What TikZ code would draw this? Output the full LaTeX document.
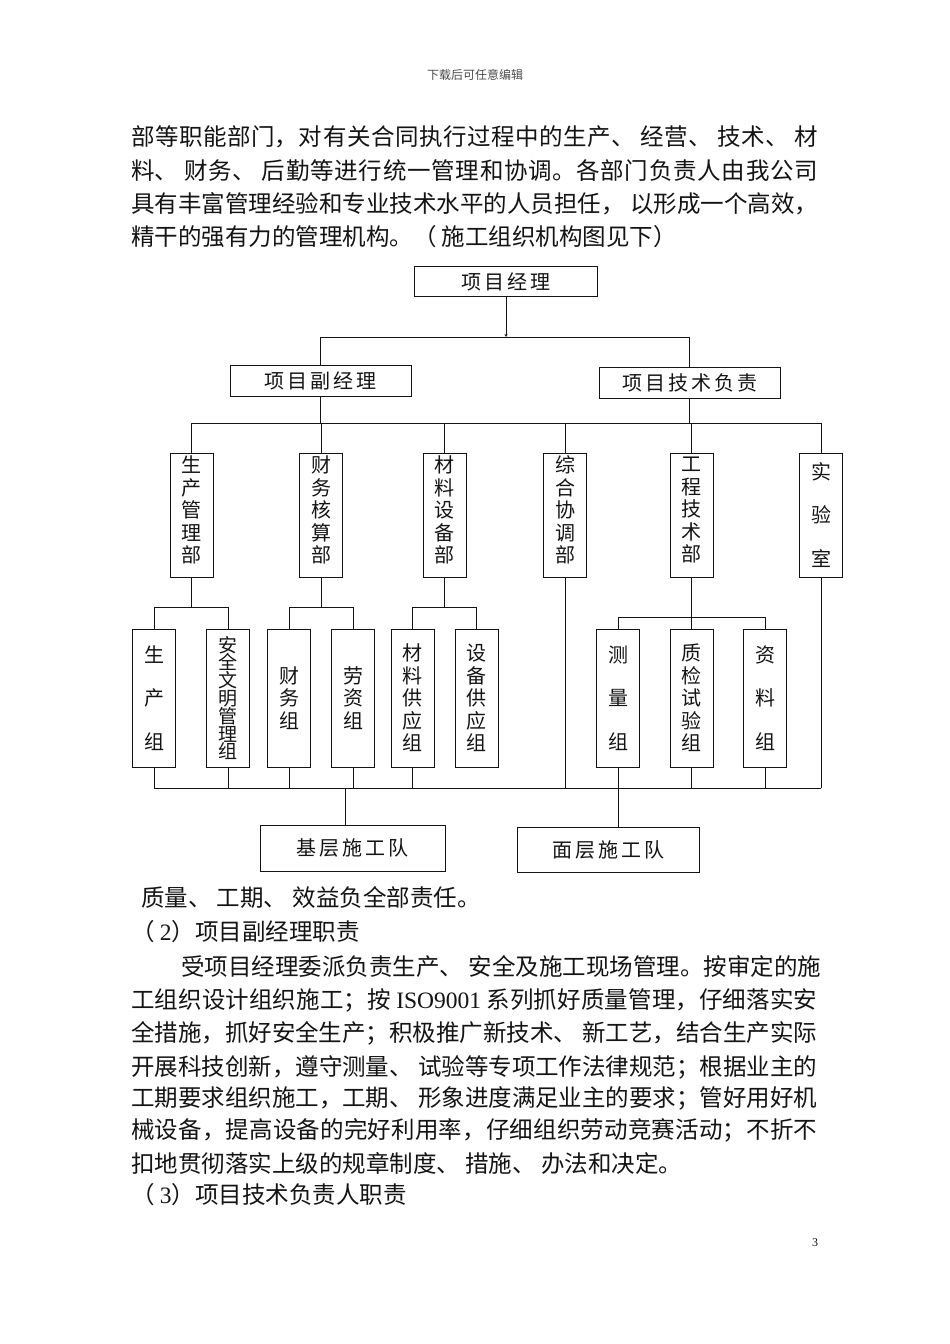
\documentclass[tikz,border=0pt]{standalone}
\usepackage{fontspec}
\setmainfont{Liberation Serif}
\newfontfamily\cjk{Noto Sans CJK SC}
\newfontfamily\cjkbox[LetterSpace=15]{Noto Sans CJK SC}
\usetikzlibrary{arrows.meta}
\XeTeXlinebreaklocale "zh"
\XeTeXlinebreakskip=0pt plus 2pt minus 1pt
\lineskiplimit=-100pt
\definecolor{inkmain}{HTML}{141414}
\definecolor{inkgray}{HTML}{4A4A4A}
\newcommand{\spreadline}[2]{\parbox{#1}{\parindent=0pt\parfillskip=0pt\relax #2}}
\tikzset{
  bodytext/.style={anchor=west,inner sep=0pt,text=inkmain,font=\cjk\fontsize{23.5}{24}\selectfont},
  wire/.style={draw=inkmain,line width=1pt},
  hbox/.style={draw=inkmain,line width=1pt,inner sep=0pt,text=inkmain,font=\cjkbox\fontsize{20}{20}\selectfont},
  deptbox/.style={draw=inkmain,line width=1pt,inner sep=0pt,minimum width=43pt,minimum height=124pt,align=center,text=inkmain,font=\cjk\fontsize{20}{22.5}\selectfont},
  groupbox/.style={deptbox,minimum height=138pt},
  widegap/.style={font=\cjk\fontsize{20}{43.5}\selectfont},
  tightgap/.style={font=\cjk\fontsize{19}{17.8}\selectfont},
  raised/.style={text depth=11pt}
}
\begin{document}
\begin{tikzpicture}[x=1pt,y=-1pt]
\fill[white] (0,0) rectangle (950,1344);
\useasboundingbox (0,0) rectangle (950,1344);
\node[font=\cjk\fontsize{12}{12}\selectfont,text=inkgray] (banner) at (475,75) {下载后可任意编辑};
% text above the chart
\node[bodytext] (introa) at (131,137) {\spreadline{687pt}{部等职能部门，对有关合同执行过程中的生产、 经营、 技术、 材}};
\node[bodytext] (introb) at (131,171) {\spreadline{687pt}{料、 财务、 后勤等进行统一管理和协调。各部门负责人由我公司}};
\node[bodytext] (introc) at (131,204) {\spreadline{687pt}{具有丰富管理经验和专业技术水平的人员担任， 以形成一个高效，}};
\node[bodytext] (introd) at (131,237) {精干的强有力的管理机构。（ 施工组织机构图见下）};
% chart
\node[hbox,minimum width=183pt,minimum height=30pt] (pm) at (506,281.5) {项目经理};
\node[hbox,minimum width=181pt,minimum height=31pt] (dpm) at (320.5,380.5) {项目副经理};
\node[hbox,minimum width=181pt,minimum height=31pt] (tech) at (689.5,382.5) {项目技术负责};
\node[deptbox,raised] (prod) at (191.5,515) {生\\产\\管\\理\\部};
\node[deptbox,raised] (fin) at (321,515) {财\\务\\核\\算\\部};
\node[deptbox,raised] (mat) at (444.5,515) {材\\料\\设\\备\\部};
\node[deptbox,raised] (coord) at (565,515) {综\\合\\协\\调\\部};
\node[deptbox,raised] (eng) at (691.5,515) {工\\程\\技\\术\\部};
\node[deptbox,widegap] (lab) at (821,515) {实\\验\\室};
\node[groupbox,widegap] (prodg) at (154,698) {生\\产\\组};
\node[groupbox,tightgap] (safe) at (228,698) {安\\全\\文\\明\\管\\理\\组};
\node[groupbox] (fing) at (289,698) {财\\务\\组};
\node[groupbox] (labour) at (353,698) {劳\\资\\组};
\node[groupbox] (matg) at (412.5,698) {材\\料\\供\\应\\组};
\node[groupbox] (equip) at (476.5,698) {设\\备\\供\\应\\组};
\node[groupbox,widegap] (surv) at (618,698) {测\\量\\组};
\node[groupbox] (qc) at (691.5,698) {质\\检\\试\\验\\组};
\node[groupbox,widegap] (docs) at (765,698) {资\\料\\组};
\node[hbox,minimum width=185pt,minimum height=46pt] (base) at (352.5,848) {基层施工队};
\node[hbox,minimum width=182pt,minimum height=45pt] (surf) at (608,849.5) {面层施工队};
\coordinate (busa) at (0,337);
\coordinate (busb) at (0,423);
\coordinate (busc) at (0,607);
\coordinate (busd) at (0,617);
\coordinate (buse) at (0,788);
\draw[wire,-{Stealth[length=3pt,width=3pt]}] (pm.south) -- (pm.south |- busa);
\draw[wire] (dpm.north) -- (dpm.north |- busa) -- (tech.north |- busa) -- (tech.north);
\draw[wire] (dpm.south) -- (dpm.south |- busb);
\draw[wire] (tech.south) -- (tech.south |- busb);
\draw[wire] (prod.north |- busb) -- (lab.north |- busb);
\foreach \d in {prod,fin,mat,coord,eng,lab} \draw[wire] (\d.north |- busb) -- (\d.north);
\draw[wire] (prod.south) -- (prod.south |- busc);
\draw[wire] (prodg.north) -- (prodg.north |- busc) -- (safe.north |- busc) -- (safe.north);
\draw[wire] (fin.south) -- (fin.south |- busc);
\draw[wire] (fing.north) -- (fing.north |- busc) -- (labour.north |- busc) -- (labour.north);
\draw[wire] (mat.south) -- (mat.south |- busc);
\draw[wire] (matg.north) -- (matg.north |- busc) -- (equip.north |- busc) -- (equip.north);
\draw[wire] (eng.south) -- (eng.south |- busd);
\draw[wire] (surv.north) -- (surv.north |- busd) -- (docs.north |- busd) -- (docs.north);
\draw[wire] (qc.north) -- (qc.north |- busd);
\foreach \g in {prodg,safe,fing,labour,matg,surv,qc,docs} \draw[wire] (\g.south) -- (\g.south |- buse);
\draw[wire] (coord.south) -- (coord.south |- buse);
\draw[wire] (lab.south) -- (lab.south |- buse);
\draw[wire] (prodg.south |- buse) -- (lab.south |- buse);
\draw[wire] ([xshift=-7pt]base.north) -- ([xshift=-7pt]base.north |- buse);
\draw[wire] (surf.north -| surv.south) -- (surv.south |- buse);
% text below the chart
\node[bodytext] (dutya) at (141,897) {质量、 工期、 效益负全部责任。};
\node[bodytext] (dutyb) at (131,932) {（ {\rmfamily 2}）项目副经理职责};
\node[bodytext] (dutyc) at (181,967) {\spreadline{640pt}{受项目经理委派负责生产、 安全及施工现场管理。按审定的施}};
\node[bodytext] (dutyd) at (131,1000) {\spreadline{686pt}{工组织设计组织施工；按 {\rmfamily ISO9001} 系列抓好质量管理，仔细落实安}};
\node[bodytext] (dutye) at (131,1033) {\spreadline{686pt}{全措施，抓好安全生产；积极推广新技术、 新工艺，结合生产实际}};
\node[bodytext] (dutyf) at (131,1067) {\spreadline{686pt}{开展科技创新，遵守测量、 试验等专项工作法律规范；根据业主的}};
\node[bodytext] (dutyg) at (131,1098) {\spreadline{686pt}{工期要求组织施工，工期、 形象进度满足业主的要求；管好用好机}};
\node[bodytext] (dutyh) at (131,1130) {\spreadline{686pt}{械设备，提高设备的完好利用率，仔细组织劳动竞赛活动；不折不}};
\node[bodytext] (dutyi) at (131,1163) {扣地贯彻落实上级的规章制度、 措施、 办法和决定。};
\node[bodytext] (dutyj) at (131,1195) {（ {\rmfamily 3}）项目技术负责人职责};
\node[font=\fontsize{12}{12}\selectfont,text=inkmain] (pageno) at (815,1243) {3};
\end{tikzpicture}
\end{document}
